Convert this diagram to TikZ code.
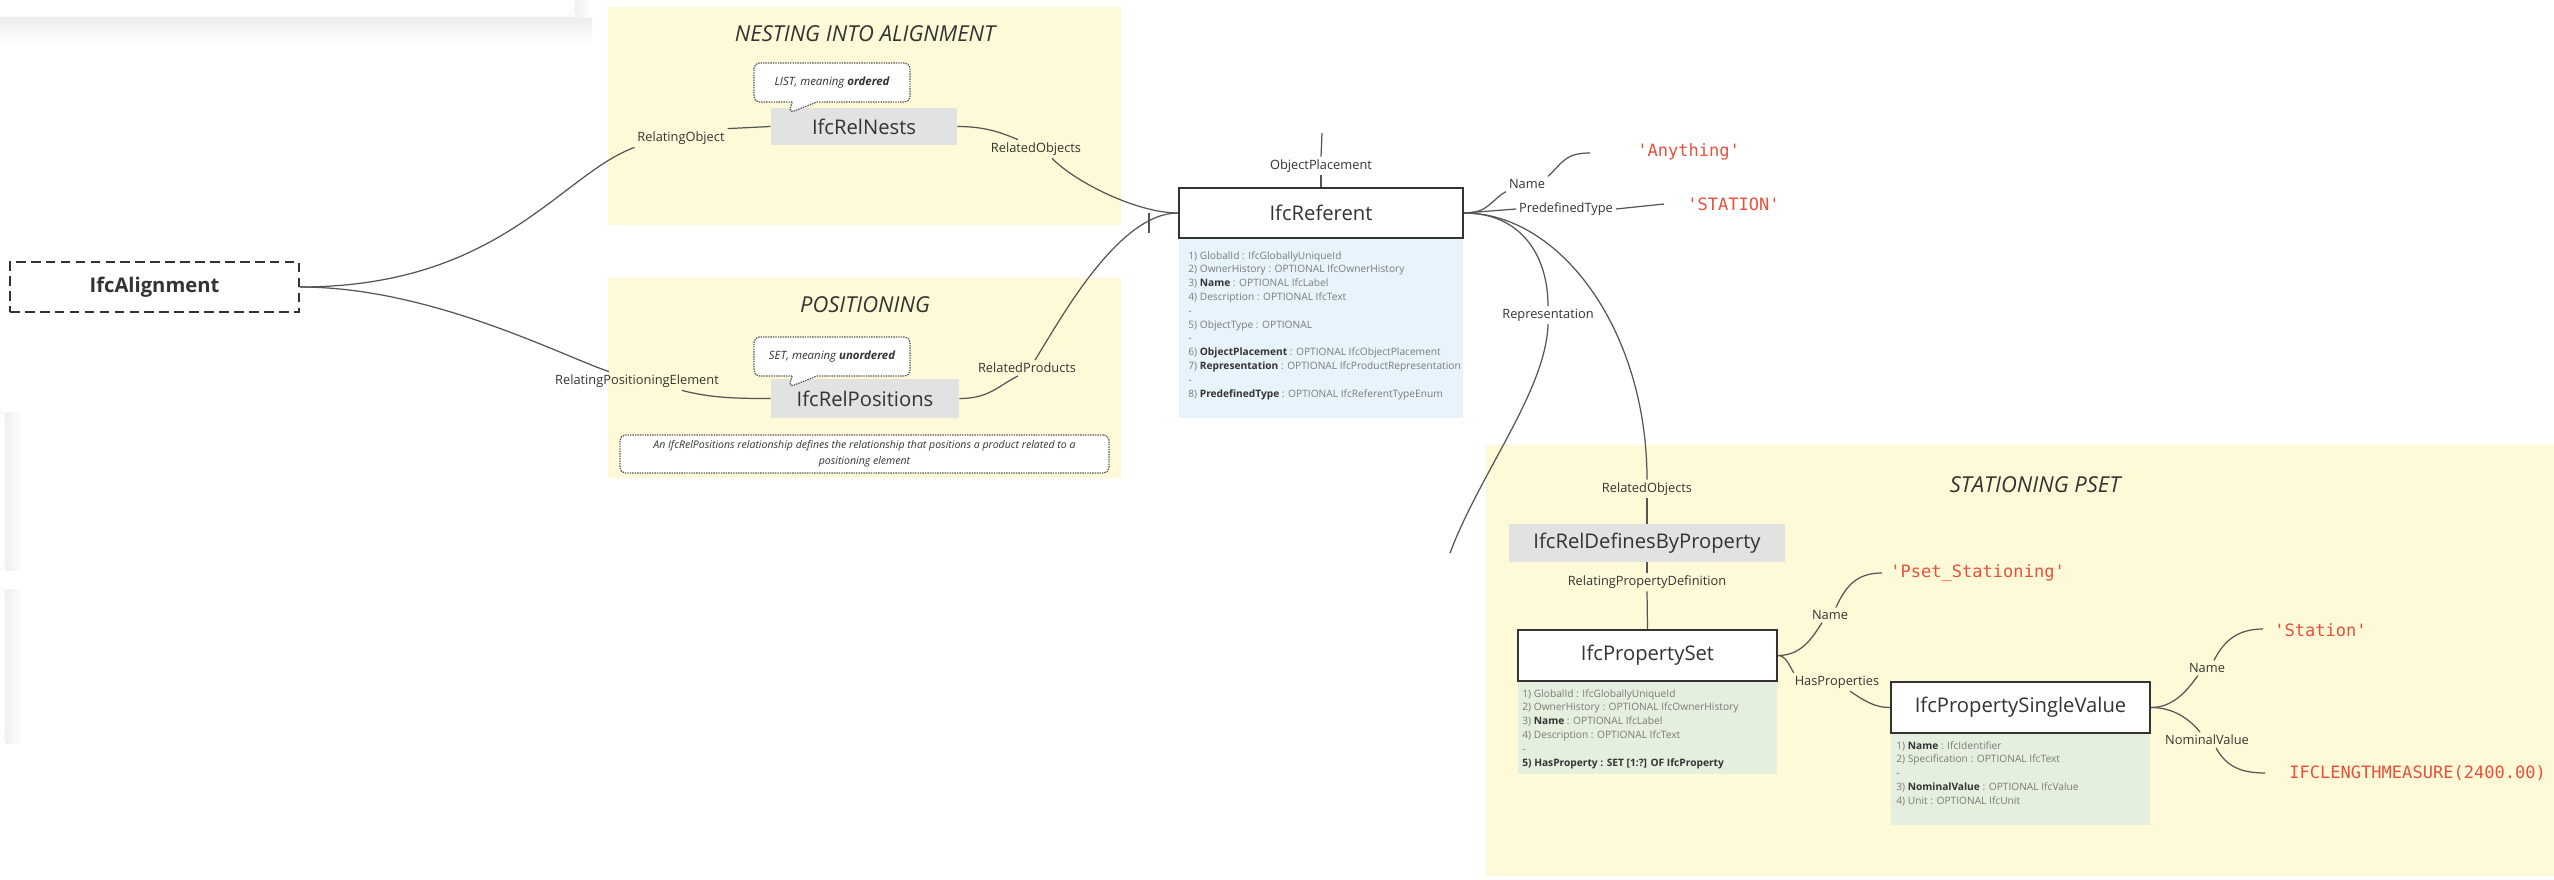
\documentclass[tikz,border=0pt]{standalone}
\usepackage{fontspec}
\setmainfont{Open Sans}
\newfontfamily\valuefont{DejaVu Sans Mono}
\usetikzlibrary{calc,shapes.callouts}

\definecolor{panelyellow}{HTML}{FEFAD8}
\definecolor{relgrey}{HTML}{E2E2E2}
\definecolor{attrblue}{HTML}{E8F4FC}
\definecolor{attrgreen}{HTML}{E5EFDD}
\definecolor{ink}{HTML}{333333}
\definecolor{wire}{HTML}{555555}
\definecolor{attrtext}{HTML}{7A7A7A}
\definecolor{valred}{HTML}{E9503C}

\newcommand{\attrkey}[1]{\textcolor{ink}{\bfseries #1}}

\begin{document}
\begin{tikzpicture}[x=0.02cm, y=-0.02cm,
  panel/.style={fill=panelyellow},
  paneltitle/.style={font=\fontsize{12.5}{15}\selectfont\itshape, text=ink, inner sep=0},
  classbox/.style={draw=ink, line width=1.3pt, fill=white, text=ink,
    font=\fontsize{11.5}{14}\selectfont, inner sep=0, minimum width=5.18cm, minimum height=1.02cm},
  relbox/.style={fill=relgrey, text=ink, font=\fontsize{11.5}{14}\selectfont, inner sep=0},
  role/.style={font=\fontsize{7.3}{9}\selectfont, text=ink, inner sep=1.5pt},
  value/.style={font=\valuefont\fontsize{9.7}{12}\selectfont, text=valred, anchor=west, inner sep=0},
  attrs/.style={font=\fontsize{5.8}{7.85}\selectfont, text=attrtext, align=left, anchor=north west, inner sep=0},
  conn/.style={draw=wire, line width=0.7pt},
  dotbox/.style={draw=wire, line width=0.7pt, dash pattern=on 0.8pt off 0.6pt, rounded corners=3pt, fill=white},
  hint/.style={dotbox, rectangle callout, font=\fontsize{6.5}{8}\selectfont\itshape, text=ink,
    inner sep=0, minimum width=3.12cm, minimum height=0.78cm, callout pointer width=0.5cm},
]
\useasboundingbox (0,0) rectangle (2554,879);
\fill[white] (0,0) rectangle (2554,879);

% cards at the edge of the board
\shade[top color=black!7, bottom color=white] (0,17) rectangle (592,44);
\shade[left color=black!6, right color=white] (575,-5) rectangle (592,17);
\filldraw[fill=white, draw=black!5, rounded corners=6] (-20,-20) rectangle (575,17);
\shade[left color=black!6, right color=white] (5,412) rectangle (24,570);
\filldraw[fill=white, draw=black!5, rounded corners=5] (-20,410) rectangle (5,570);
\shade[left color=black!6, right color=white] (5,589) rectangle (24,743);
\filldraw[fill=white, draw=black!5, rounded corners=5] (-20,587) rectangle (5,743);

% section panels
\fill[panel] (608,7) rectangle (1121,225);
\fill[panel] (608,278) rectangle (1121,478);
\fill[panel] (1486,445) rectangle (2554,876);

\node[paneltitle] (tNest) at (865,34) {NESTING INTO ALIGNMENT};
\node[paneltitle] (tPos) at (865,305) {POSITIONING};
\node[paneltitle] (tStat) at (2035,485) {STATIONING PSET};

% entities
\node[draw=ink, line width=1.1pt, dash pattern=on 5.5pt off 3pt, fill=white,
  minimum width=5.78cm, minimum height=1cm, inner sep=0,
  font=\fontsize{11.5}{14}\selectfont\bfseries, text=ink] (aln) at (154.5,287) {IfcAlignment};

\node[relbox, minimum width=3.72cm, minimum height=0.74cm] (nests) at (864,126.5) {IfcRelNests};
\node[relbox, minimum width=3.76cm, minimum height=0.78cm] (rpos) at (865,398.5) {IfcRelPositions};

\node[hint, callout absolute pointer={(789,113)}] (nestsHint) at (832,82.5) {LIST, meaning {\bfseries ordered}};
\node[hint, callout absolute pointer={(789,387)}] (posHint) at (832,356.5) {SET, meaning {\bfseries unordered}};
\node[dotbox, minimum width=9.78cm, minimum height=0.76cm, align=center, inner sep=0,
  font=\fontsize{6}{9}\selectfont\itshape, text=ink] (posNote) at (864.5,454)
  {An IfcRelPositions relationship defines the relationship that positions a product related to a\\ positioning element};

\fill[attrblue] (1179,238) rectangle (1463,418);
\node[classbox, minimum width=5.68cm, minimum height=1cm] (ref) at (1321,213) {IfcReferent};
\node[attrs] (refAttrs) at (1188,251) {1) GlobalId : IfcGloballyUniqueId\\
2) OwnerHistory : OPTIONAL IfcOwnerHistory\\
3) \attrkey{Name} : OPTIONAL IfcLabel\\
4) Description : OPTIONAL IfcText\\
-\\
5) ObjectType : OPTIONAL\\
-\\
6) \attrkey{ObjectPlacement} : OPTIONAL IfcObjectPlacement\\
7) \attrkey{Representation} : OPTIONAL IfcProductRepresentation\\
-\\
8) \attrkey{PredefinedType} : OPTIONAL IfcReferentTypeEnum};

\node[relbox, minimum width=5.52cm, minimum height=0.76cm] (rdbp) at (1647,543) {IfcRelDefinesByProperty};

\fill[attrgreen] (1518,681) rectangle (1777,774);
\node[classbox] (pset) at (1647.5,655.5) {IfcPropertySet};
\node[attrs] (psetAttrs) at (1522,689) {1) GlobalId : IfcGloballyUniqueId\\
2) OwnerHistory : OPTIONAL IfcOwnerHistory\\
3) \attrkey{Name} : OPTIONAL IfcLabel\\
4) Description : OPTIONAL IfcText\\
-\\
\attrkey{5) HasProperty : SET [1:?] OF IfcProperty}};

\fill[attrgreen] (1891,733) rectangle (2150,825);
\node[classbox] (psv) at (2020.5,707.5) {IfcPropertySingleValue};
\node[attrs] (psvAttrs) at (1896,741) {1) \attrkey{Name} : IfcIdentifier\\
2) Specification : OPTIONAL IfcText\\
-\\
3) \attrkey{NominalValue} : OPTIONAL IfcValue\\
4) Unit : OPTIONAL IfcUnit};

% literal values
\node[value] (vAnything) at (1637,152) {'Anything'};
\node[value] (vStation) at (1687,204) {'STATION'};
\node[value] (vPset) at (1890,573) {'Pset\_Stationing'};
\node[value] (vStationName) at (2274,630) {'Station'};
\node[value] (vLength) at (2289,773) {IFCLENGTHMEASURE(2400.00)};

% role labels
\node[role] (relatingObjLbl) at (681,138) {RelatingObject};
\node[role] (relObjsLbl) at (1036,149) {RelatedObjects};
\node[role] (relPosElLbl) at (637,381) {RelatingPositioningElement};
\node[role] (relProdLbl) at (1027,368) {RelatedProducts};
\node[role] (objPlLbl) at (1321,166) {ObjectPlacement};
\node[role] (nameRefLbl) at (1527,184) {Name};
\node[role] (predefLbl) at (1566,209) {PredefinedType};
\node[role] (reprLbl) at (1548,315) {Representation};
\node[role] (relObjs2Lbl) at (1647,489) {RelatedObjects};
\node[role] (relPropDefLbl) at (1647,582) {RelatingPropertyDefinition};
\node[role] (namePsetLbl) at (1830,615) {Name};
\node[role] (hasPropLbl) at (1837,682) {HasProperties};
\node[role] (nameSvLbl) at (2207,668) {Name};
\node[role] (nomValLbl) at (2207,740) {NominalValue};

% free connector ends
\coordinate (opTop) at (1322,133);
\coordinate (tickTop) at (1149,213);
\coordinate (tickBot) at (1149,233);
\coordinate (endAnything) at (1590,153);
\coordinate (endStation) at (1664,204);
\coordinate (endRepr) at (1450,553);
\coordinate (endPset) at (1882,573);
\coordinate (endStationName) at (2263,629);
\coordinate (endLength) at (2265,773);

% nesting
\draw[conn] (aln.east) .. controls (500,287) and (560,175) .. (relatingObjLbl.south west);
\draw[conn] (relatingObjLbl.north east) -- (nests.west);
\draw[conn] (nests.east) .. controls +(30,0) and +(-15,-6) .. ($(relObjsLbl.north)+(-18,0)$);
\draw[conn] ($(relObjsLbl.south)+(16,0)$) .. controls +(25,25) and +(-40,0) .. (ref.west);

% positioning
\draw[conn] (aln.east) .. controls (430,287) and (560,355) .. ($(relPosElLbl.north)+(-28,0)$);
\draw[conn] ($(relPosElLbl.south)+(45,0)$) .. controls +(30,8) and +(-30,0) .. (rpos.west);
\draw[conn] (rpos.east) .. controls +(30,0) and +(-20,10) .. ($(relProdLbl.south)+(-9,0)$);
\draw[conn] ($(relProdLbl.north)+(8,0)$) .. controls +(25,-40) and +(-60,0) .. (ref.west);
\draw[conn] (tickTop) -- (tickBot);

% referent attributes
\draw[conn] (opTop) -- (objPlLbl.north);
\draw[conn] (objPlLbl.south) -- (ref.north);
\draw[conn] (ref.east) .. controls +(25,0) and +(-15,8) .. (nameRefLbl.south west);
\draw[conn] (nameRefLbl.north east) .. controls +(15,-14) and +(-25,0) .. (endAnything);
\draw[conn] (ref.east) -- (predefLbl.west);
\draw[conn] (predefLbl.east) -- (endStation);
\draw[conn] (ref.east) .. controls +(57,0) and +(0,-50) .. (reprLbl.north);
\draw[conn] (reprLbl.south) .. controls +(-2,66) and +(30,-80) .. (endRepr);
\draw[conn] (ref.east) .. controls (1560,213) and (1647,330) .. (relObjs2Lbl.north);
\draw[conn] (relObjs2Lbl.south) -- (rdbp.north);

% property set
\draw[conn] (rdbp.south) -- (relPropDefLbl.north);
\draw[conn] (relPropDefLbl.south) -- (pset.north);
\draw[conn] (pset.east) .. controls +(25,0) and +(-8,12) .. ($(namePsetLbl.south)+(-8,0)$);
\draw[conn] ($(namePsetLbl.north)+(6,0)$) .. controls +(10,-22) and +(-25,0) .. (endPset);
\draw[conn] (pset.east) .. controls +(8,0) and +(-4,-6) .. ($(hasPropLbl.north west)+(2,0)$);
\draw[conn] ($(hasPropLbl.south)+(13,0)$) .. controls +(15,10) and +(-15,0) .. (psv.west);

% single value
\draw[conn] (psv.east) .. controls +(25,0) and +(-8,10) .. ($(nameSvLbl.south)+(-9,0)$);
\draw[conn] ($(nameSvLbl.north)+(7,0)$) .. controls +(10,-20) and +(-25,0) .. (endStationName);
\draw[conn] (psv.east) .. controls +(25,0) and +(-8,-10) .. ($(nomValLbl.north)+(-7,0)$);
\draw[conn] ($(nomValLbl.south)+(9,0)$) .. controls +(10,18) and +(-25,0) .. (endLength);
\end{tikzpicture}
\end{document}
